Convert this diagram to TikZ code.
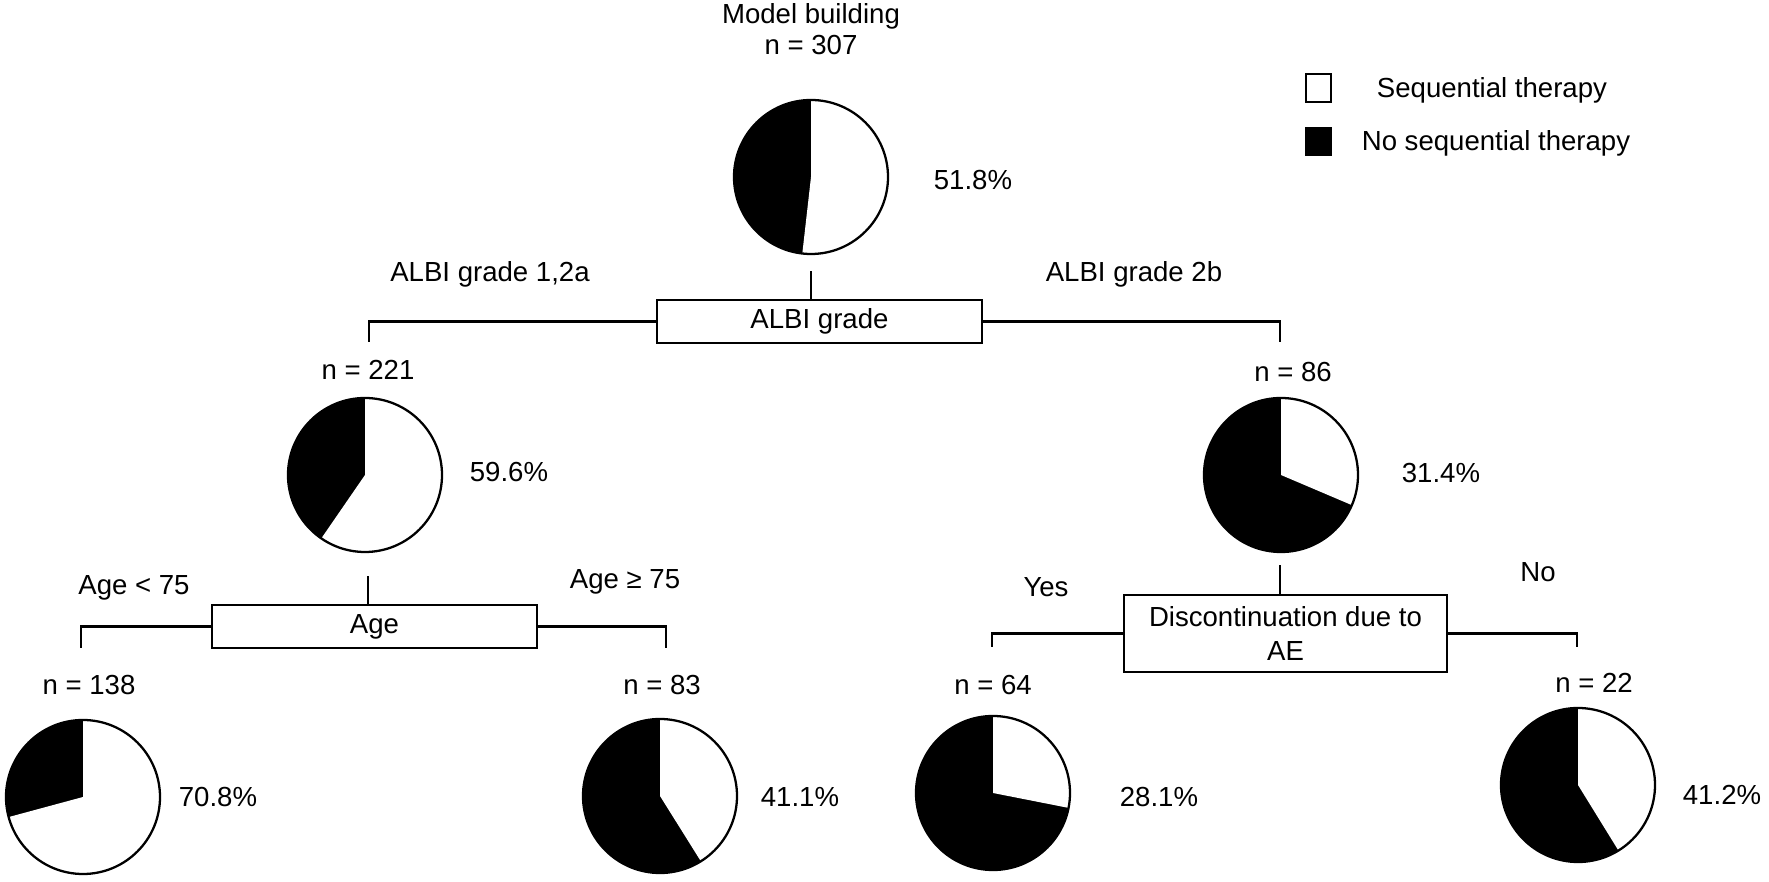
\documentclass[tikz,border=0pt]{standalone}
\usepackage{fontspec}
\setmainfont{Liberation Sans}
\usetikzlibrary{positioning,calc}
\tikzset{
  lbl/.style={font=\fontsize{15.7}{18}\selectfont, inner sep=0pt, align=center},
  splitbox/.style={draw, line width=1.4pt, minimum width=6.5cm, minimum height=0.86cm,
    inner sep=2pt, align=center, font=\fontsize{15.7}{19.9}\selectfont},
  branch/.style={line width=1.4pt},
  pie/.style={circle, minimum size=3.08cm, inner sep=0pt, fill=black},
  pieline/.style={line width=1.3pt},
  keybox/.style={draw, line width=1pt, minimum width=0.5cm, minimum height=0.56cm, inner sep=0pt},
}

\begin{document}
\begin{tikzpicture}[x=0.02cm,y=0.02cm]
  \useasboundingbox (0,0) rectangle (1769,882);
  % root split
  \node[lbl] (top) at (811,853) {Model building\\n = 307};
  \node[pie] (p0) at (811,705) {};
  \node[lbl] (v0) at (973,702) {51.8\%};
  \node[splitbox] (albi) at (819.5,560.5) {ALBI grade};
  \node[lbl] (albiL) at (490,608) {ALBI grade 1,2a};
  \node[lbl] (albiR) at (1134,608) {ALBI grade 2b};
  \coordinate (albiLend) at (369,540);
  \coordinate (albiRend) at (1280,540);
  % ALBI 1,2a
  \node[lbl] (n1) at (368,512) {n = 221};
  \node[pie] (p1) at (365,407) {};
  \node[lbl] (v1) at (509,410) {59.6\%};
  \node[splitbox] (age) at (374.5,255.5) {Age};
  \node[lbl] (ageL) at (134,294) {Age < 75};
  \node[lbl] (ageR) at (625,300) {Age ≥ 75};
  \coordinate (ageLend) at (81,234);
  \coordinate (ageRend) at (666,234);
  % ALBI 2b
  \node[lbl] (n2) at (1293,510) {n = 86};
  \node[pie] (p2) at (1281,407) {};
  \node[lbl] (v2) at (1441,409) {31.4\%};
  \node[splitbox, minimum width=6.46cm, minimum height=1.54cm] (disc) at (1285.5,248.5)
      {Discontinuation due to\\AE};
  \node[lbl] (discL) at (1046,295) {Yes};
  \node[lbl] (discR) at (1538,310) {No};
  \coordinate (discLend) at (992,235);
  \coordinate (discRend) at (1577,235);
  % leaves
  \node[lbl] (n3) at (89,197) {n = 138};
  \node[pie] (p3) at (83,85) {};
  \node[lbl] (v3) at (218,85) {70.8\%};
  \node[lbl] (n4) at (662,197) {n = 83};
  \node[pie] (p4) at (660,86) {};
  \node[lbl] (v4) at (800,85) {41.1\%};
  \node[lbl] (n5) at (993,197) {n = 64};
  \node[pie] (p5) at (993,89) {};
  \node[lbl] (v5) at (1159,85) {28.1\%};
  \node[lbl] (n6) at (1594,199) {n = 22};
  \node[pie] (p6) at (1578,97) {};
  \node[lbl] (v6) at (1722,87) {41.2\%};
  % white share of each pie
  \foreach \p/\f in {p0/51.8,p1/59.6,p2/31.4,p3/70.8,p4/41.1,p5/28.1,p6/41.2} {
    \fill[white] (\p.center) -- ++(0,77) arc[start angle=90, delta angle=-3.6*\f, radius=77] -- cycle;
    \draw[pieline] (\p.center) circle[radius=77];
  }
  % stems and branches
  \draw[branch] (p0 |- albi.north) -- ++(0,28);
  \draw[branch] (albi.west) -| (albiLend);
  \draw[branch] (albi.east) -| (albiRend);
  \draw[branch] (368,0 |- age.north) -- ++(0,28);
  \draw[branch] (age.west) -| (ageLend);
  \draw[branch] (age.east) -| (ageRend);
  \draw[branch] (1280,0 |- disc.north) -- ++(0,29);
  \draw[branch] (disc.west) -| (discLend);
  \draw[branch] (disc.east) -| (discRend);
  % legend
  \node[keybox, fill=white] (kS) at (1318.5,794) {};
  \node[keybox, fill=black] (kN) at (1318.5,740.5) {};
  \node[lbl] (tS) at (1492,792) {Sequential therapy};
  \node[lbl] (tN) at (1496,739) {No sequential therapy};
\end{tikzpicture}
\end{document}
